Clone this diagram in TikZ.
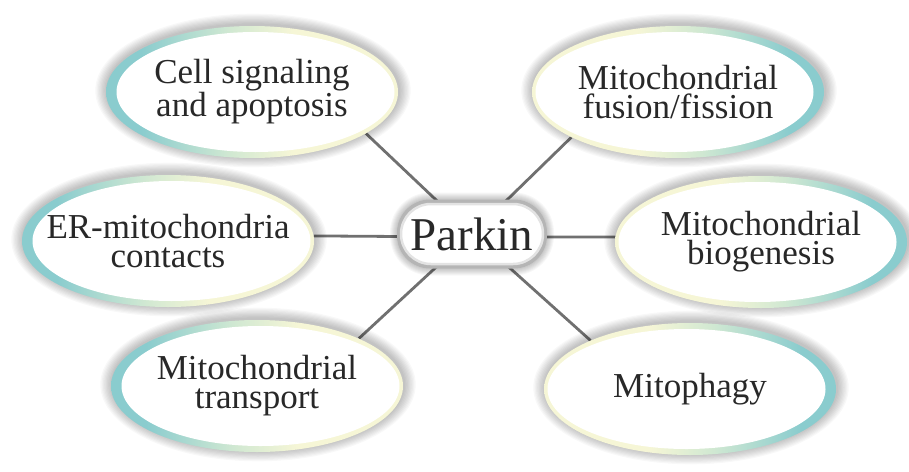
\documentclass[tikz,border=0pt]{standalone}
\usepackage{fontspec}
\setmainfont{Liberation Serif}
\usetikzlibrary{backgrounds,shapes.geometric}
\definecolor{tealc}{RGB}{138,204,206}
\definecolor{midc}{RGB}{208,232,210}
\definecolor{palec}{RGB}{246,246,214}
\definecolor{linec}{RGB}{112,112,112}
\definecolor{textc}{RGB}{40,40,40}
\pgfdeclarehorizontalshading{tealleft}{100bp}{color(0bp)=(tealc); color(31bp)=(tealc); color(46bp)=(midc); color(57bp)=(palec); color(100bp)=(palec)}
\pgfdeclarehorizontalshading{tealright}{100bp}{color(0bp)=(palec); color(43bp)=(palec); color(54bp)=(midc); color(69bp)=(tealc); color(100bp)=(tealc)}
\tikzset{
  bubshape/.style={ellipse, minimum width=292pt, minimum height=132pt, inner sep=0pt},
  bubtext/.style={align=center, inner sep=0pt, text=textc, font=\fontsize{35}{29}\selectfont},
  parkinbox/.style={rectangle, rounded corners=30pt, minimum width=142pt, minimum height=60pt,
     fill=white, draw=gray!22, line width=2.5pt, inner sep=0pt, text=textc, font=\fontsize{47}{50}\selectfont},
  link/.style={draw=linec, line width=2.8pt},
}
% #1 name, #2 x, #3 y, #4 shading, #5 inner x offset, #6 text
\newcommand\mybubble[6]{%
  \begin{scope}[shift={(#2,#3)}]
    \foreach \k in {1,...,9}{
      \fill[black,opacity=0.028] (1pt,1.5pt) ellipse [x radius={146pt+1.3pt*\k}, y radius={66pt+1.2pt*\k}];
    }
    \shade[shading=#4] (0pt,0pt) ellipse [x radius=146pt, y radius=66pt];
    \fill[white] (#5,0pt) ellipse [x radius=139pt, y radius=60pt];
  \end{scope}
  \node[bubshape] (#1) at (#2,#3) {};
  \node[bubtext] (#1t) at (#1) {#6};
}
\begin{document}
\begin{tikzpicture}[x=1pt,y=-1pt]
\useasboundingbox (0,0) rectangle (909,471);
\begin{scope}[on background layer]
  \fill[white] (0,0) rectangle (909,471);
\end{scope}

\mybubble{cell}{252}{92}{tealleft}{3.5pt}{Cell signaling\\and apoptosis}
\mybubble{fusion}{678}{92}{tealright}{-3.5pt}{Mitochondrial\\fusion/fission}
\mybubble{er}{168}{241}{tealleft}{3.5pt}{ER-mitochondria\\contacts}
\mybubble{bio}{761}{242}{tealright}{-3.5pt}{Mitochondrial\\biogenesis}
\mybubble{trans}{257}{386}{tealleft}{3.5pt}{Mitochondrial\\transport}
\mybubble{mito}{690}{389}{tealright}{-3.5pt}{Mitophagy}

% Parkin box
\begin{scope}[shift={(472,234)}]
  \foreach \k [evaluate=\k as \r using 33+\k] in {1,...,7}{
    \fill[black,opacity=0.03,rounded corners=\r pt] ({-75pt-\k pt},{-34.5pt-\k pt}) rectangle ({75pt+\k pt},{34.5pt+\k pt});
  }
  \fill[gray!58,rounded corners=33pt] (-75pt,-34.5pt) rectangle (75pt,34.5pt);
\end{scope}
\node[parkinbox] (parkin) at (472,234) {Parkin};

\begin{scope}[on background layer]
  \draw[link] (parkin.center) -- (cell.-20);
  \draw[link] (parkin.center) -- (fusion.-157);
  \draw[link] ([yshift=-3pt]parkin.center) -- (er.2);
  \draw[link] ([yshift=-3pt]parkin.center) -- (bio.178);
  \draw[link] (parkin.center) -- (trans.25);
  \draw[link] (parkin.center) -- (mito.154);
\end{scope}
\end{tikzpicture}
\end{document}
